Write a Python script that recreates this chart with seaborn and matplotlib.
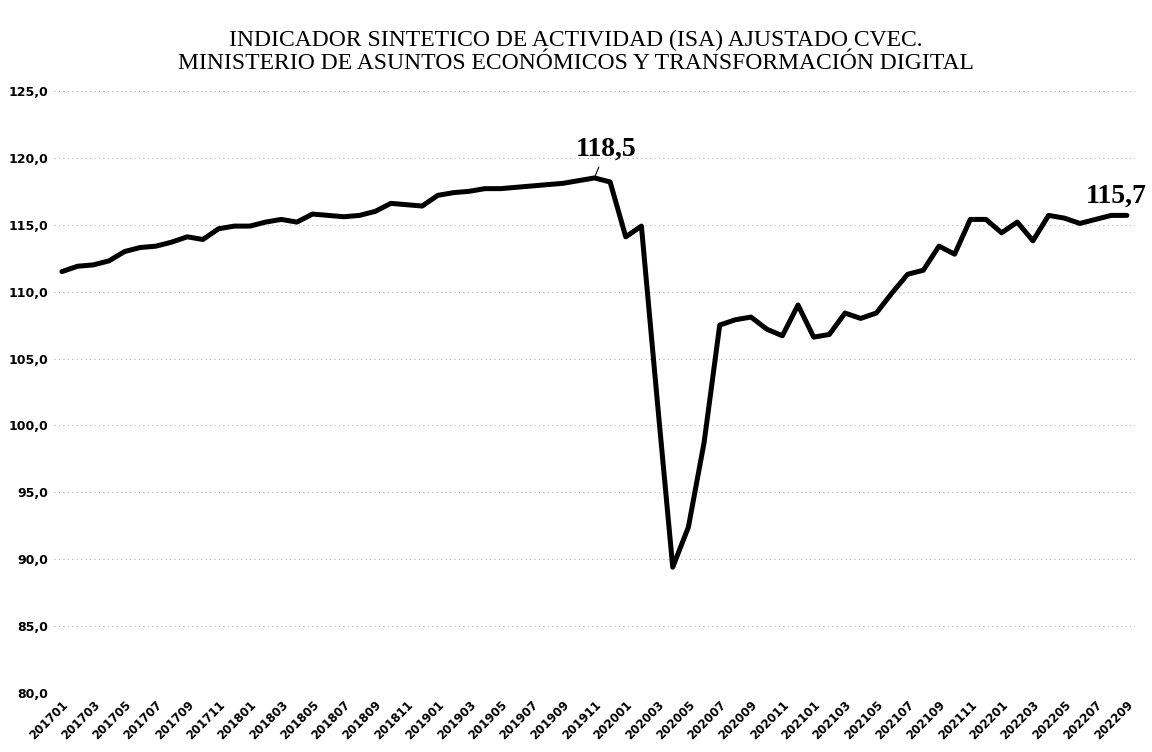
import pandas as pd
import seaborn as sns
import matplotlib.pyplot as plt

# periods 201701 .. 202209
periods = [f"{y}{m:02d}" for y in range(2017, 2023) for m in range(1, 13)][:69]

isa = [
    111.5, 111.9, 112.0, 112.3, 113.0, 113.3, 113.4, 113.7, 114.1, 113.9, 114.7, 114.9,  # 2017
    114.9, 115.2, 115.4, 115.2, 115.8, 115.7, 115.6, 115.7, 116.0, 116.6, 116.5, 116.4,  # 2018
    117.2, 117.4, 117.5, 117.7, 117.7, 117.8, 117.9, 118.0, 118.1, 118.3, 118.5, 118.2,  # 2019
    114.1, 114.9, 102.0, 89.4, 92.4, 98.7, 107.5, 107.9, 108.1, 107.2, 106.7, 109.0,     # 2020
    106.6, 106.8, 108.4, 108.0, 108.4, 109.9, 111.3, 111.6, 113.4, 112.8, 115.4, 115.4,  # 2021
    114.4, 115.2, 113.8, 115.7, 115.5, 115.1, 115.4, 115.7, 115.7,                       # 2022
]
yticks = [80, 85, 90, 95, 100, 105, 110, 115, 120, 125]
title = ("INDICADOR SINTETICO DE ACTIVIDAD (ISA) AJUSTADO CVEC.\n"
         "MINISTERIO DE ASUNTOS ECONÓMICOS Y TRANSFORMACIÓN DIGITAL")

df = pd.DataFrame({"idx": range(len(periods)), "periodo": periods, "isa": isa})

sns.set_style("white")
plt.rcParams["font.family"] = ["DejaVu Sans"]
plt.rcParams["text.color"] = "black"
plt.rcParams["xtick.color"] = "black"
plt.rcParams["ytick.color"] = "black"

fig = plt.figure(figsize=(11.52, 7.52), dpi=100)
ax = fig.add_axes([0.047, 0.0785, 0.938, 0.8005])

sns.lineplot(data=df, x="idx", y="isa", color="black", linewidth=3.6, ax=ax)

ax.set_xlim(-0.5, len(periods) - 0.5)
ax.set_ylim(80, 125)
ax.set_yticks(yticks)
ax.set_yticklabels([f"{v:.1f}".replace(".", ",") for v in yticks],
                   fontsize=9, fontweight="bold")
ax.set_xticks(df["idx"][::2])
ax.set_xticklabels(df["periodo"][::2], rotation=45, ha="right",
                   rotation_mode="anchor", fontsize=8.5, fontweight="bold")
ax.tick_params(axis="both", length=0, pad=4)
ax.grid(axis="y", color="#b0b0b0", linestyle=(0, (1, 3)), linewidth=0.8)
ax.set_xlabel("")
ax.set_ylabel("")
for s in ax.spines.values():
    s.set_visible(False)

# peak and last value labels
ipk = isa.index(max(isa))
ax.annotate(f"{isa[ipk]:.1f}".replace(".", ","), xy=(ipk, isa[ipk]),
            xytext=(ipk + 0.75, isa[ipk] + 1.25), ha="center", va="bottom",
            fontsize=20, fontweight="bold", family="Liberation Serif",
            arrowprops=dict(arrowstyle="-", color="black", lw=0.8,
                            shrinkA=2, shrinkB=1))
ilast = len(isa) - 1
ax.annotate(f"{isa[ilast]:.1f}".replace(".", ","), xy=(ilast, isa[ilast]),
            xytext=(ilast - 0.7, isa[ilast] + 0.5), ha="center", va="bottom",
            fontsize=20, fontweight="bold", family="Liberation Serif",
            annotation_clip=False)

fig.text(0.5, 0.96, title, ha="center", va="top", fontsize=17,
         family="Liberation Serif", linespacing=1.12, color="black")

fig.savefig("out.png", dpi=100, facecolor="white")
